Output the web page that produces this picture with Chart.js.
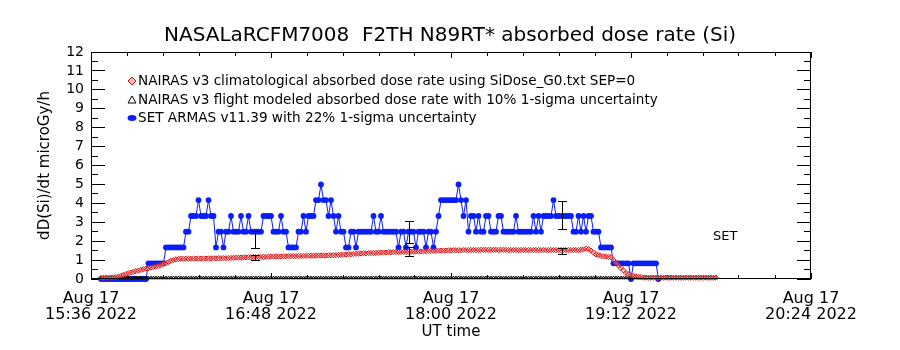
<!DOCTYPE html>
<html>
<head>
<meta charset="utf-8">
<script src="https://cdn.jsdelivr.net/npm/chart.js@4.4.1/dist/chart.umd.min.js"></script>
<style>
  html, body { margin: 0; padding: 0; background: #ffffff; }
  #wrap { width: 900px; height: 350px; }
</style>
</head>
<body>
<div id="wrap"><canvas id="c" width="900" height="350"></canvas></div>
<script>
// ---------------- DATA ----------------
const chartTitle = 'NASALaRCFM7008  F2TH N89RT* absorbed dose rate (Si)';
const seriesLabels = [
  'NAIRAS v3 climatological absorbed dose rate using SiDose_G0.txt SEP=0',
  'NAIRAS v3 flight modeled absorbed dose rate with 10% 1-sigma uncertainty',
  'SET ARMAS v11.39 with 22% 1-sigma uncertainty'
];
const sideLabel = 'SET';
const xAxisTitle = 'UT time';
const yAxisTitle = 'dD(Si)/dt microGy/h';
// x axis: minutes after 15:36 UT, Aug 17 2022
const xTickLabels = [
  ['Aug 17', '15:36 2022'],
  ['Aug 17', '16:48 2022'],
  ['Aug 17', '18:00 2022'],
  ['Aug 17', '19:12 2022'],
  ['Aug 17', '20:24 2022']
];

// SET ARMAS, one sample per minute starting at minute 4
const setStartMin = 4;
const setStepMin = 1;
const setValues = [
  0,0,0,0,0,0,0,0,0,0,0,0,0,0,0,0,0,0,0,
  0.83,0.83,0.83,0.83,0.83,0.83,0.83,
  1.67,1.67,1.67,1.67,1.67,1.67,1.67,1.67,
  2.5,2.5,
  3.33,3.33,3.33,4.17,3.33,3.33,3.33,4.17,3.33,3.33,
  1.67,2.5,2.5,1.67,
  2.5,2.5,3.33,2.5,2.5,2.5,3.33,2.5,2.5,3.33,2.5,2.5,2.5,2.5,2.5,
  3.33,3.33,3.33,3.33,
  2.5,2.5,2.5,3.33,2.5,2.5,
  1.67,1.67,1.67,1.67,
  2.5,2.5,3.33,2.5,3.33,3.33,
  3.33,4.17,4.17,5.0,4.17,4.17,3.33,4.17,
  3.33,2.5,3.33,2.5,
  2.5,1.67,1.67,2.5,2.5,1.67,2.5,2.5,2.5,2.5,2.5,2.5,3.33,2.5,2.5,3.33,
  2.5,2.5,2.5,2.5,2.5,2.5,1.67,2.5,2.5,1.67,2.5,2.5,2.5,1.67,2.5,2.5,2.5,1.67,2.5,2.5,1.67,2.5,
  3.33,
  4.17,4.17,4.17,4.17,4.17,4.17,4.17,5.0,4.17,3.33,4.17,
  2.5,3.33,3.33,2.5,3.33,2.5,2.5,3.33,3.33,2.5,2.5,2.5,3.33,3.33,
  2.5,2.5,2.5,2.5,2.5,3.33,2.5,2.5,2.5,2.5,2.5,2.5,3.33,2.5,3.33,2.5,
  3.33,3.33,3.33,3.33,4.17,3.33,3.33,3.33,3.33,3.33,3.33,3.33,
  2.5,2.5,3.33,2.5,3.33,2.5,3.33,3.33,
  2.5,2.5,2.5,
  1.67,1.67,1.67,1.67,1.67,
  0.83,0.83,0.83,0.83,0.83,0.83,0.83,0,
  0.83,0.83,0.83,0.83,0.83,0.83,0.83,0.83,0.83,0.83,
  0
];

// NAIRAS series, one sample per minute starting at minute 4
const nairasStartMin = 4;
const nairasStepMin = 1;
const nairasClimValues = [
  0.06,0.06,0.07,0.07,0.08,0.09,0.10,0.13,0.16,0.21,
  0.26,0.30,0.34,0.38,0.42,0.45,0.48,0.52,0.55,0.58,
  0.61,0.64,0.67,0.70,0.74,0.79,0.84,0.90,0.96,1.00,
  1.04,1.06,1.07,1.07,1.07,1.07,1.07,1.08,1.08,1.08,
  1.08,1.08,1.08,1.09,1.09,1.09,1.09,1.10,1.10,1.10,
  1.10,1.11,1.11,1.12,1.12,1.13,1.13,1.14,1.14,1.15,
  1.15,1.15,1.15,1.16,1.16,1.17,1.17,1.18,1.18,1.19,
  1.19,1.19,1.19,1.20,1.20,1.21,1.21,1.21,1.21,1.22,
  1.22,1.22,1.22,1.23,1.23,1.23,1.23,1.24,1.24,1.24,
  1.24,1.25,1.25,1.26,1.26,1.27,1.28,1.29,1.30,1.31,
  1.31,1.32,1.33,1.34,1.35,1.36,1.36,1.37,1.37,1.38,
  1.38,1.39,1.39,1.40,1.40,1.41,1.41,1.42,1.42,1.43,
  1.43,1.43,1.43,1.44,1.44,1.45,1.45,1.46,1.46,1.47,
  1.47,1.48,1.48,1.49,1.49,1.50,1.50,1.50,1.50,1.51,
  1.51,1.52,1.52,1.52,1.52,1.53,1.53,1.53,1.53,1.53,
  1.53,1.54,1.54,1.54,1.54,1.54,1.54,1.54,1.54,1.54,
  1.54,1.54,1.54,1.53,1.53,1.53,1.53,1.53,1.53,1.53,
  1.53,1.53,1.53,1.53,1.53,1.53,1.53,1.53,1.53,1.53,
  1.53,1.53,1.53,1.53,1.53,1.53,1.53,1.53,1.53,1.53,
  1.53,1.53,1.54,1.57,1.60,1.58,1.50,1.40,1.30,1.26,
  1.22,1.20,1.18,1.16,1.15,1.00,0.85,0.72,0.58,0.45,
  0.32,0.25,0.19,0.16,0.13,0.11,0.10,0.08,0.07,0.07,
  0.07,0.07,0.07,0.07,0.07,0.07,0.07,0.07,0.07,0.07,
  0.07,0.07,0.07,0.07,0.07,0.07,0.07,0.07,0.07,0.07,
  0.07,0.07,0.07,0.07,0.07,0.07,0.07
];
const nairasFlightValues = [
  0.06,0.06,0.06,0.06,0.06,0.06,0.06,0.06,0.06,0.06,0.06,0.06,0.06,0.06,0.06,0.06,0.06,0.06,0.06,0.06,
  0.06,0.06,0.06,0.06,0.06,0.06,0.06,0.06,0.06,0.06,0.06,0.06,0.06,0.06,0.06,0.06,0.06,0.06,0.06,0.06,
  0.06,0.06,0.06,0.06,0.06,0.06,0.06,0.06,0.06,0.06,0.06,0.06,0.06,0.06,0.06,0.06,0.06,0.06,0.06,0.06,
  0.06,0.06,0.06,0.06,0.06,0.06,0.06,0.06,0.06,0.06,0.06,0.06,0.06,0.06,0.06,0.06,0.06,0.06,0.06,0.06,
  0.06,0.06,0.06,0.06,0.06,0.06,0.06,0.06,0.06,0.06,0.06,0.06,0.06,0.06,0.06,0.06,0.06,0.06,0.06,0.06,
  0.06,0.06,0.06,0.06,0.06,0.06,0.06,0.06,0.06,0.06,0.06,0.06,0.06,0.06,0.06,0.06,0.06,0.06,0.06,0.06,
  0.06,0.06,0.06,0.06,0.06,0.06,0.06,0.06,0.06,0.06,0.06,0.06,0.06,0.06,0.06,0.06,0.06,0.06,0.06,0.06,
  0.06,0.06,0.06,0.06,0.06,0.06,0.06,0.06,0.06,0.06,0.06,0.06,0.06,0.06,0.06,0.06,0.06,0.06,0.06,0.06,
  0.06,0.06,0.06,0.06,0.06,0.06,0.06,0.06,0.06,0.06,0.06,0.06,0.06,0.06,0.06,0.06,0.06,0.06,0.06,0.06,
  0.06,0.06,0.06,0.06,0.06,0.06,0.06,0.06,0.06,0.06,0.06,0.06,0.06,0.06,0.06,0.06,0.06,0.06,0.06,0.06,
  0.06,0.06,0.06,0.06,0.06,0.06,0.06,0.06,0.06,0.06,0.06,0.06,0.06,0.06,0.06,0.06,0.06,0.06,0.06,0.06,
  0.06,0.06,0.06,0.06,0.06,0.06,0.06,0.06,0.06,0.06,0.06,0.06,0.06,0.06,0.06,0.06,0.06,0.06,0.06,0.06,
  0.06,0.06,0.06,0.06,0.06,0.06,0.06
];

// error bars (minute, mean, 1-sigma)
const errTimes      = [65.6, 127.0, 188.5];
const setErrMean    = [2.10, 2.47, 3.36];
const setErrSigma   = [0.46, 0.57, 0.74];
const nairasErrMean = [1.15, 1.46, 1.49];
const nairasErrSig  = [0.14, 0.22, 0.16];

// ---------------- STYLE ----------------
const FONT = 'DejaVu Sans';
const BLUE = 'rgb(10,30,250)';
const RED = 'rgb(215,20,20)';
const AX = { xMin: 0, xMax: 288, xMajor: 72, xMinor: 14.4, yMin: 0, yMax: 12, yMajor: 1, yMinor: 0.5 };

function toXY(start, step, arr) {
  return arr.map((v, i) => ({ x: start + i * step, y: v }));
}
const isMultiple = (v, step) => Math.abs(v / step - Math.round(v / step)) < 1e-6;

// inward tick marks through Chart.js' own grid tick drawing (negative tick length)
function yGrid(side) {
  return {
    display: true,
    drawOnChartArea: false,
    drawTicks: true,
    tickLength: -14,
    color: '#000',
    tickColor: '#000',
    tickWidth: 1,
    tickBorderDash: (c) => (c.tick && !isMultiple(c.tick.value, AX.yMajor)) ? [7, 7] : [],
    tickBorderDashOffset: (c) => (c.tick && !isMultiple(c.tick.value, AX.yMajor) && side === 'left') ? 7 : 0
  };
}
function xGrid(side) {
  return {
    display: true,
    drawOnChartArea: false,
    drawTicks: true,
    tickLength: -6,
    color: '#000',
    tickColor: '#000',
    tickWidth: 1,
    tickBorderDash: (c) => (c.tick && !isMultiple(c.tick.value, AX.xMajor)) ? (side === 'top' ? [4, 2] : [4, 10]) : [],
    tickBorderDashOffset: (c) => (c.tick && !isMultiple(c.tick.value, AX.xMajor) && side === 'top') ? 4 : 0
  };
}

function drawFrame(chart) {
  const ctx = chart.ctx;
  const a = chart.chartArea;
  const L = Math.round(a.left), R = Math.round(a.right) - 1;
  const T = Math.round(a.top), B = Math.round(a.bottom) - 1;
  ctx.save();
  ctx.fillStyle = '#000000';
  ctx.fillRect(L, T, R - L + 1, 1);
  ctx.fillRect(L, B, R - L + 1, 1);
  ctx.fillRect(L, T, 1, B - T + 1);
  ctx.fillRect(R, T, 1, B - T + 1);
  ctx.restore();
}

function drawErrorBars(chart) {
  const ctx = chart.ctx;
  const xs = chart.scales.x, ys = chart.scales.y;
  ctx.save();
  ctx.fillStyle = '#000000';
  const bar = (t, m, s) => {
    const px = Math.round(xs.getPixelForValue(t));
    const y1 = Math.round(ys.getPixelForValue(m + s));
    const y2 = Math.round(ys.getPixelForValue(m - s));
    ctx.fillRect(px, y1, 1, y2 - y1 + 1);
    ctx.fillRect(px - 4, y1, 9, 1);
    ctx.fillRect(px - 4, y2, 9, 1);
  };
  errTimes.forEach((t, i) => {
    bar(t, setErrMean[i], setErrSigma[i]);
    bar(t, nairasErrMean[i], nairasErrSig[i]);
  });
  ctx.restore();
}

function drawLegend(chart) {
  const ctx = chart.ctx;
  const a = chart.chartArea;
  ctx.save();
  const mx = a.left + 41, tx = a.left + 47;
  const rows = [a.top + 29, a.top + 48, a.top + 66];
  ctx.lineWidth = 1;
  ctx.beginPath();
  ctx.moveTo(mx, rows[0] - 4); ctx.lineTo(mx + 4, rows[0]); ctx.lineTo(mx, rows[0] + 4); ctx.lineTo(mx - 4, rows[0]); ctx.closePath();
  ctx.fillStyle = 'rgb(255,180,180)'; ctx.fill();
  ctx.strokeStyle = RED; ctx.stroke();
  ctx.beginPath();
  ctx.moveTo(mx, rows[1] - 4); ctx.lineTo(mx + 4, rows[1] + 3); ctx.lineTo(mx - 4, rows[1] + 3); ctx.closePath();
  ctx.strokeStyle = '#000'; ctx.stroke();
  ctx.beginPath();
  ctx.ellipse(mx, rows[2], 4.5, 3, 0, 0, Math.PI * 2);
  ctx.fillStyle = BLUE; ctx.fill();
  ctx.fillStyle = '#000';
  ctx.font = '13.6px "' + FONT + '"';
  ctx.textAlign = 'left';
  ctx.textBaseline = 'middle';
  seriesLabels.forEach((s, i) => ctx.fillText(s, tx, rows[i]));
  ctx.font = '13px "' + FONT + '"';
  ctx.fillText(sideLabel, a.left + 622, a.top + 185);
  ctx.restore();
}

const idlDecor = {
  id: 'idlDecor',
  afterDraw(chart) {
    drawErrorBars(chart);
    drawLegend(chart);
    drawFrame(chart);
  }
};

Chart.defaults.font.family = FONT;
Chart.defaults.color = '#000';

new Chart(document.getElementById('c'), {
  type: 'line',
  data: {
    datasets: [
      {
        label: seriesLabels[0],
        data: toXY(nairasStartMin, nairasStepMin, nairasClimValues),
        borderColor: RED,
        borderWidth: 1,
        pointStyle: 'rectRot',
        pointRadius: 2.6,
        pointBorderWidth: 1,
        pointBorderColor: RED,
        pointBackgroundColor: 'rgba(255,200,200,0.35)',
        clip: false
      },
      {
        label: seriesLabels[1],
        data: toXY(nairasStartMin, nairasStepMin, nairasFlightValues),
        showLine: false,
        pointStyle: 'triangle',
        pointRadius: 1.8,
        pointBorderWidth: 1,
        pointBorderColor: '#000',
        pointBackgroundColor: 'rgba(0,0,0,0)',
        clip: false
      },
      {
        label: seriesLabels[2],
        data: toXY(setStartMin, setStepMin, setValues),
        borderColor: BLUE,
        borderWidth: 1,
        pointStyle: 'circle',
        pointRadius: 2.9,
        pointBorderWidth: 0,
        pointBackgroundColor: BLUE,
        clip: false
      }
    ]
  },
  options: {
    responsive: false,
    animation: false,
    devicePixelRatio: 1,
    events: [],
    layout: { padding: { left: 0, right: 0, top: 0, bottom: 0 } },
    plugins: {
      legend: { display: false },
      tooltip: { enabled: false },
      title: {
        display: true,
        text: chartTitle,
        color: '#000',
        font: { family: FONT, size: 20, weight: 'normal', lineHeight: 1.2 },
        padding: { top: 24, bottom: 4 }
      }
    },
    scales: {
      x: {
        type: 'linear',
        position: 'bottom',
        min: AX.xMin,
        max: AX.xMax,
        grid: xGrid('bottom'),
        border: { display: false },
        ticks: {
          stepSize: AX.xMinor,
          autoSkip: false,
          maxRotation: 0,
          maxTicksLimit: 40,
          padding: 18,
          color: '#000',
          font: { family: FONT, size: 16, lineHeight: 1.0 },
          callback: (v) => isMultiple(v, AX.xMajor) ? xTickLabels[Math.round(v / AX.xMajor)] : ''
        },
        title: {
          display: true,
          text: xAxisTitle,
          color: '#000',
          font: { family: FONT, size: 15, lineHeight: 1.2 },
          padding: { top: 0, bottom: 9 }
        },
        afterFit: (s) => { s.height = 71; }
      },
      xTop: {
        type: 'linear',
        position: 'top',
        min: AX.xMin,
        max: AX.xMax,
        grid: xGrid('top'),
        border: { display: false },
        ticks: { stepSize: AX.xMinor, autoSkip: false, maxTicksLimit: 40, display: false },
        afterFit: (s) => { s.height = 0; }
      },
      y: {
        type: 'linear',
        position: 'left',
        min: AX.yMin,
        max: AX.yMax,
        grid: yGrid('left'),
        border: { display: false },
        ticks: {
          stepSize: AX.yMinor,
          autoSkip: false,
          maxTicksLimit: 40,
          padding: 21,
          color: '#000',
          font: { family: FONT, size: 14 },
          callback: (v) => isMultiple(v, AX.yMajor) ? String(Math.round(v)) : ''
        },
        title: {
          display: true,
          text: yAxisTitle,
          color: '#000',
          font: { family: FONT, size: 15, lineHeight: 1.2 },
          padding: { top: 36, bottom: 0 }
        },
        afterFit: (s) => { s.width = 91; }
      },
      yRight: {
        type: 'linear',
        position: 'right',
        min: AX.yMin,
        max: AX.yMax,
        grid: yGrid('right'),
        border: { display: false },
        ticks: { stepSize: AX.yMinor, autoSkip: false, maxTicksLimit: 40, display: false },
        afterFit: (s) => { s.width = 89; }
      }
    }
  },
  plugins: [idlDecor]
});
</script>
</body>
</html>
